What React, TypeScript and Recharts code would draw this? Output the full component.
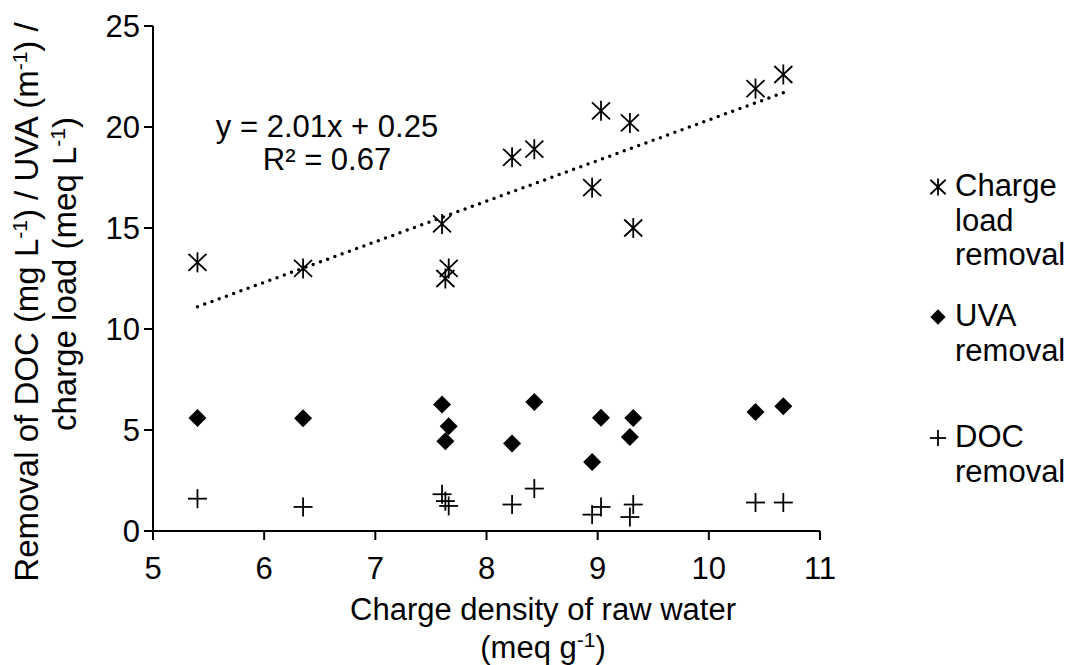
import React from 'react';
import { ScatterChart, Scatter, XAxis, YAxis, Customized } from 'recharts';

// raw-water charge density (meq/g), one entry per sample
const CHARGE_DENSITY = [5.4, 6.35, 7.6, 7.63, 7.66, 8.23, 8.43, 8.95, 9.03, 9.29, 9.32, 10.42, 10.67];
const CHARGE_LOAD_REMOVAL = [13.3, 13.0, 15.2, 12.5, 13.0, 18.5, 18.9, 17.0, 20.8, 20.2, 15.0, 21.9, 22.6];
const UVA_REMOVAL = [5.6, 5.58, 6.26, 4.44, 5.18, 4.33, 6.39, 3.42, 5.61, 4.65, 5.6, 5.89, 6.17];
const DOC_REMOVAL = [1.6, 1.19, 1.82, 1.48, 1.24, 1.31, 2.1, 0.81, 1.19, 0.69, 1.31, 1.41, 1.41];

const X_TICKS = [5, 6, 7, 8, 9, 10, 11];
const Y_TICKS = [0, 5, 10, 15, 20, 25];

// linear fit of charge load removal shown on the chart
const TREND_SLOPE = 2.01;
const TREND_INTERCEPT = 0.25;

const LEGEND_ITEMS = [
  { name: 'Charge load removal', marker: 'asterisk' },
  { name: 'UVA removal', marker: 'diamond' },
  { name: 'DOC removal', marker: 'plus' },
];

const FONT = 'Liberation Sans, Arial, sans-serif';
const FONT_SIZE = 31;

const toPoints = (ys: number[]) => CHARGE_DENSITY.map((x, i) => ({ x, y: ys[i] }));

const xMin = Math.min(...CHARGE_DENSITY);
const xMax = Math.max(...CHARGE_DENSITY);
const trendData = [
  { x: xMin, y: TREND_SLOPE * xMin + TREND_INTERCEPT },
  { x: xMax, y: TREND_SLOPE * xMax + TREND_INTERCEPT },
];

const Asterisk = ({ cx, cy, s = 1 }: any) => (
  <g stroke="#000" strokeWidth={1.8}>
    <line x1={cx} y1={cy - 10 * s} x2={cx} y2={cy + 10 * s} />
    <line x1={cx - 9 * s} y1={cy - 8.5 * s} x2={cx + 9 * s} y2={cy + 8.5 * s} />
    <line x1={cx - 9 * s} y1={cy + 8.5 * s} x2={cx + 9 * s} y2={cy - 8.5 * s} />
  </g>
);

const Diamond = ({ cx, cy, s = 1 }: any) => (
  <path
    d={`M${cx},${cy - 9 * s} L${cx + 9 * s},${cy} L${cx},${cy + 9 * s} L${cx - 9 * s},${cy} Z`}
    fill="#000"
  />
);

const Plus = ({ cx, cy, s = 1 }: any) => (
  <g stroke="#000" strokeWidth={1.8}>
    <line x1={cx - 9.5 * s} y1={cy} x2={cx + 9.5 * s} y2={cy} />
    <line x1={cx} y1={cy - 9.5 * s} x2={cx} y2={cy + 9.5 * s} />
  </g>
);

const NoShape = () => <g />;

const XTick = ({ x, y, payload }: any) => (
  <text x={x} y={y + 37} textAnchor="middle" fontFamily={FONT} fontSize={FONT_SIZE} fill="#000">
    {payload.value}
  </text>
);

const YTick = ({ x, y, payload }: any) => (
  <text x={x} y={y + 11} textAnchor="end" fontFamily={FONT} fontSize={FONT_SIZE} fill="#000">
    {payload.value}
  </text>
);

const SUP_RISE = 11;
const SUP_SIZE = 21;

const Titles = () => (
  <g fontFamily={FONT} fontSize={FONT_SIZE} fill="#000">
    <text x={327} y={137} textAnchor="middle">y = 2.01x + 0.25</text>
    <text x={327} y={170} textAnchor="middle">R² = 0.67</text>

    <text x={543} y={620} textAnchor="middle">Charge density of raw water</text>
    <text x={543} y={658} textAnchor="middle">
      (meq g<tspan dy={-SUP_RISE} fontSize={SUP_SIZE}>-1</tspan>
      <tspan dy={SUP_RISE}>)</tspan>
    </text>

    <g fontSize={33}>
      <text x={38} y={302} textAnchor="middle" transform="rotate(-90, 38, 302)">
        Removal of DOC (mg L<tspan dy={-SUP_RISE} fontSize={SUP_SIZE}>-1</tspan>
        <tspan dy={SUP_RISE}>) / UVA (m</tspan>
        <tspan dy={-SUP_RISE} fontSize={SUP_SIZE}>-1</tspan>
        <tspan dy={SUP_RISE}>) /</tspan>
      </text>
      <text x={76} y={274} textAnchor="middle" transform="rotate(-90, 76, 274)">
        charge load (meq L<tspan dy={-SUP_RISE} fontSize={SUP_SIZE}>-1</tspan>
        <tspan dy={SUP_RISE}>)</tspan>
      </text>
    </g>
  </g>
);

const LEGEND_TOPS = [169, 299, 420];

const ChartLegend = () => (
  <div style={{ position: 'absolute', left: 0, top: 0, fontFamily: FONT, fontSize: FONT_SIZE }}>
    {LEGEND_ITEMS.map((item, i) => (
      <div key={item.name} style={{ position: 'absolute', left: 926, top: LEGEND_TOPS[i], width: 150 }}>
        <svg width={24} height={24} style={{ position: 'absolute', left: 0, top: 6 }}>
          {item.marker === 'asterisk' && <Asterisk cx={12} cy={12} s={0.85} />}
          {item.marker === 'diamond' && <Diamond cx={12} cy={12} s={0.85} />}
          {item.marker === 'plus' && <Plus cx={12} cy={12} s={0.85} />}
        </svg>
        <div style={{ marginLeft: 29, width: 116, lineHeight: '34.5px' }}>{item.name}</div>
      </div>
    ))}
  </div>
);

export default function App() {
  return (
    <div style={{ position: 'absolute', left: 0, top: 0, width: 1071, height: 665, background: '#fff' }}>
      <ScatterChart width={1071} height={665} margin={{ top: 26, right: 251, bottom: 0, left: 0 }}>
        <XAxis
          type="number"
          dataKey="x"
          domain={[5, 11]}
          ticks={X_TICKS}
          height={134}
          tickSize={9}
          axisLine={{ stroke: '#000', strokeWidth: 2 }}
          tickLine={{ stroke: '#000', strokeWidth: 2 }}
          tick={XTick}
        />
        <YAxis
          type="number"
          dataKey="y"
          domain={[0, 25]}
          ticks={Y_TICKS}
          width={153}
          tickSize={9}
          tickMargin={4}
          axisLine={{ stroke: '#000', strokeWidth: 2 }}
          tickLine={{ stroke: '#000', strokeWidth: 2 }}
          tick={YTick}
        />
        <Scatter
          name="trend"
          data={trendData}
          shape={NoShape}
          line={{ stroke: '#000', strokeWidth: 3.5, strokeDasharray: '0 7.7', strokeLinecap: 'round' }}
          legendType="none"
          isAnimationActive={false}
        />
        <Scatter name="Charge load removal" data={toPoints(CHARGE_LOAD_REMOVAL)} shape={Asterisk} isAnimationActive={false} />
        <Scatter name="UVA removal" data={toPoints(UVA_REMOVAL)} shape={Diamond} isAnimationActive={false} />
        <Scatter name="DOC removal" data={toPoints(DOC_REMOVAL)} shape={Plus} isAnimationActive={false} />
        <Customized component={Titles} />
      </ScatterChart>
      <ChartLegend />
    </div>
  );
}
